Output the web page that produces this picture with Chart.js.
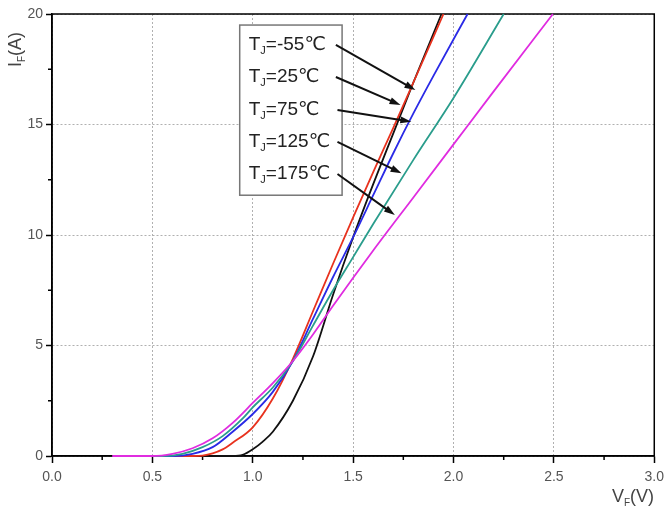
<!DOCTYPE html>
<html lang="en">
<head>
    <meta charset="UTF-8">
    <title>IF vs VF</title>
    <script src="https://cdn.jsdelivr.net/npm/chart.js"></script>
    <style>
        body { margin: 0; background: #fff; }
        #wrap { width: 670px; height: 519px; }
    </style>
</head>
<body>
    <div id="wrap"><canvas id="myChart" width="670" height="519"></canvas></div>

    <script>
        // forward voltage (V) / forward current (A) per junction temperature
        const vM55 = [0.7, 0.9, 0.95, 1.0, 1.05, 1.1, 1.2, 1.3, 1.4, 1.5, 1.6, 1.7, 1.8, 1.94];
        const iM55 = [0, 0, 0.05, 0.3, 0.65, 1.1, 2.5, 4.5, 7.3, 9.9, 12.3, 14.6, 16.9, 20];

        const v25 = [0.5, 0.7, 0.75, 0.8, 0.85, 0.9, 1.0, 1.1, 1.2, 1.3, 1.4, 1.5, 1.6, 1.7, 1.8, 1.95];
        const i25 = [0, 0, 0.02, 0.12, 0.3, 0.6, 1.3, 2.6, 4.4, 6.55, 8.7, 10.8, 12.85, 14.85, 16.9, 20];

        const v75 = [0.45, 0.6, 0.7, 0.8, 0.9, 1.0, 1.1, 1.2, 1.3, 1.4, 1.5, 1.6, 1.7, 1.8, 1.9, 2.07];
        const i75 = [0, 0, 0.1, 0.4, 1.1, 1.9, 2.9, 4.3, 6.2, 8.1, 9.9, 11.8, 13.7, 15.5, 17.2, 20];

        const v125 = [0.4, 0.55, 0.65, 0.75, 0.85, 0.95, 1.0, 1.1, 1.2, 1.3, 1.4, 1.5, 1.6, 1.8, 2.0, 2.25];
        const i125 = [0, 0, 0.1, 0.4, 0.9, 1.7, 2.2, 3.1, 4.3, 5.9, 7.5, 9.0, 10.5, 13.4, 16.2, 20];

        const v175 = [0.3, 0.5, 0.6, 0.7, 0.8, 0.9, 1.0, 1.1, 1.2, 1.3, 1.4, 1.6, 1.8, 2.0, 2.2, 2.495];
        const i175 = [0, 0, 0.1, 0.35, 0.8, 1.5, 2.4, 3.3, 4.3, 5.5, 6.8, 9.3, 11.7, 14.1, 16.5, 20];

        const xTicks = [0, 0.5, 1.0, 1.5, 2.0, 2.5, 3.0];
        const yTicks = [0, 5, 10, 15, 20];

        // labels box + arrows, in data units
        const tempLabels = ['-55℃', '25℃', '75℃', '125℃', '175℃'];
        const labelI = [18.6, 17.15, 15.66, 14.21, 12.76];
        const arrowFromV = [1.414, 1.414, 1.422, 1.422, 1.422];
        const arrowToV = [1.81, 1.736, 1.79, 1.741, 1.708];
        const arrowToI = [16.56, 15.88, 15.13, 12.79, 10.9];

        const pts = (xs, ys) => xs.map((x, i) => ({x: x, y: ys[i]}));

        function sub(ctx, x, y, main, s, mainFont, subFont, rest) {
            ctx.font = mainFont;
            ctx.fillText(main, x, y);
            x += ctx.measureText(main).width;
            ctx.font = subFont;
            ctx.fillText(s, x, y + 6);
            x += ctx.measureText(s).width;
            ctx.font = mainFont;
            ctx.fillText(rest, x, y);
        }

        const extras = {
            id: 'extras',
            beforeDatasetsDraw(chart) {
                const ctx = chart.ctx;
                const xs = chart.scales.x, ys = chart.scales.y;
                const a = chart.chartArea;
                ctx.save();
                // minor ticks
                ctx.strokeStyle = '#000';
                ctx.lineWidth = 1.5;
                ctx.beginPath();
                for (let v = 0.25; v < 3; v += 0.5) {
                    const px = xs.getPixelForValue(v);
                    ctx.moveTo(px, a.bottom); ctx.lineTo(px, a.bottom + 4);
                }
                for (let v = 2.5; v < 20; v += 5) {
                    const py = ys.getPixelForValue(v);
                    ctx.moveTo(a.left, py); ctx.lineTo(a.left - 4, py);
                }
                ctx.stroke();
                // frame
                ctx.strokeRect(a.left, a.top, a.right - a.left, a.bottom - a.top);
                ctx.restore();
            },
            afterDraw(chart) {
                const ctx = chart.ctx;
                const xs = chart.scales.x, ys = chart.scales.y;
                ctx.save();

                // axis titles
                ctx.fillStyle = '#444';
                ctx.textBaseline = 'middle';
                ctx.textAlign = 'left';
                sub(ctx, 612, 497, 'V', 'F', '18px "Liberation Sans", Arial', '10px "Liberation Sans", Arial', '(V)');
                ctx.save();
                ctx.translate(16, 67);
                ctx.rotate(-Math.PI / 2);
                sub(ctx, 0, 0, 'I', 'F', '18px "Liberation Sans", Arial', '10px "Liberation Sans", Arial', '(A)');
                ctx.restore();

                // label box
                const bx1 = xs.getPixelForValue(0.935), bx2 = xs.getPixelForValue(1.445);
                const by1 = ys.getPixelForValue(19.5), by2 = ys.getPixelForValue(11.8);
                ctx.fillStyle = '#fff';
                ctx.fillRect(bx1, by1, bx2 - bx1, by2 - by1);
                ctx.strokeStyle = '#777';
                ctx.lineWidth = 1.5;
                ctx.strokeRect(bx1, by1, bx2 - bx1, by2 - by1);

                ctx.fillStyle = '#222';
                tempLabels.forEach((t, i) => {
                    const ty = ys.getPixelForValue(labelI[i]);
                    sub(ctx, xs.getPixelForValue(0.98), ty, 'T', 'J', '19px "Liberation Sans", "DejaVu Sans"', '11px "Liberation Sans"', '=' + t);
                });

                // arrows
                ctx.strokeStyle = '#111';
                ctx.fillStyle = '#111';
                ctx.lineWidth = 2;
                tempLabels.forEach((t, i) => {
                    const x1 = xs.getPixelForValue(arrowFromV[i]), y1 = ys.getPixelForValue(labelI[i]);
                    const x2 = xs.getPixelForValue(arrowToV[i]), y2 = ys.getPixelForValue(arrowToI[i]);
                    const ang = Math.atan2(y2 - y1, x2 - x1);
                    ctx.beginPath();
                    ctx.moveTo(x1, y1); ctx.lineTo(x2 - 6 * Math.cos(ang), y2 - 6 * Math.sin(ang));
                    ctx.stroke();
                    ctx.beginPath();
                    ctx.moveTo(x2, y2);
                    ctx.lineTo(x2 - 11 * Math.cos(ang) + 3.5 * Math.sin(ang), y2 - 11 * Math.sin(ang) - 3.5 * Math.cos(ang));
                    ctx.lineTo(x2 - 11 * Math.cos(ang) - 3.5 * Math.sin(ang), y2 - 11 * Math.sin(ang) + 3.5 * Math.cos(ang));
                    ctx.closePath();
                    ctx.fill();
                });
                ctx.restore();
            }
        };

        const line = (data, color) => ({
            data: data,
            borderColor: color,
            borderWidth: 1.8,
            pointRadius: 0,
            fill: false,
            clip: 3,
            cubicInterpolationMode: 'monotone'
        });

        const tickFont = {family: '"Liberation Sans", Arial', size: 14};

        new Chart(document.getElementById('myChart'), {
            type: 'line',
            data: {
                datasets: [
                    line(pts(v175, i175), '#e02ce0'),
                    line(pts(v125, i125), '#2a9d8c'),
                    line(pts(v75, i75), '#2a2ae6'),
                    line(pts(v25, i25), '#e8321e'),
                    line(pts(vM55, iM55), '#111111')
                ]
            },
            options: {
                responsive: false,
                animation: false,
                layout: {padding: {top: 14, right: 13, left: 0, bottom: 0}},
                plugins: {legend: {display: false}, tooltip: {enabled: false}},
                scales: {
                    x: {
                        type: 'linear', min: 0, max: 3,
                        afterFit: s => { s.height = 63; },
                        afterBuildTicks: s => { s.ticks = xTicks.map(v => ({value: v})); },
                        ticks: {callback: v => v.toFixed(1), font: tickFont, color: '#555', padding: 6, maxRotation: 0},
                        grid: {color: '#b0b0b0', lineWidth: 1, tickLength: 7, tickColor: '#000', tickWidth: 1.5},
                        border: {color: '#000', width: 1.5, dash: [2, 2]}
                    },
                    y: {
                        min: 0, max: 20,
                        afterFit: s => { s.width = 52; },
                        afterBuildTicks: s => { s.ticks = yTicks.map(v => ({value: v})); },
                        ticks: {font: tickFont, color: '#555', padding: 3},
                        grid: {color: '#b0b0b0', lineWidth: 1, tickLength: 6, tickColor: '#000', tickWidth: 1.5},
                        border: {color: '#000', width: 1.5, dash: [2, 2]}
                    }
                }
            },
            plugins: [extras]
        });
    </script>
</body>
</html>
